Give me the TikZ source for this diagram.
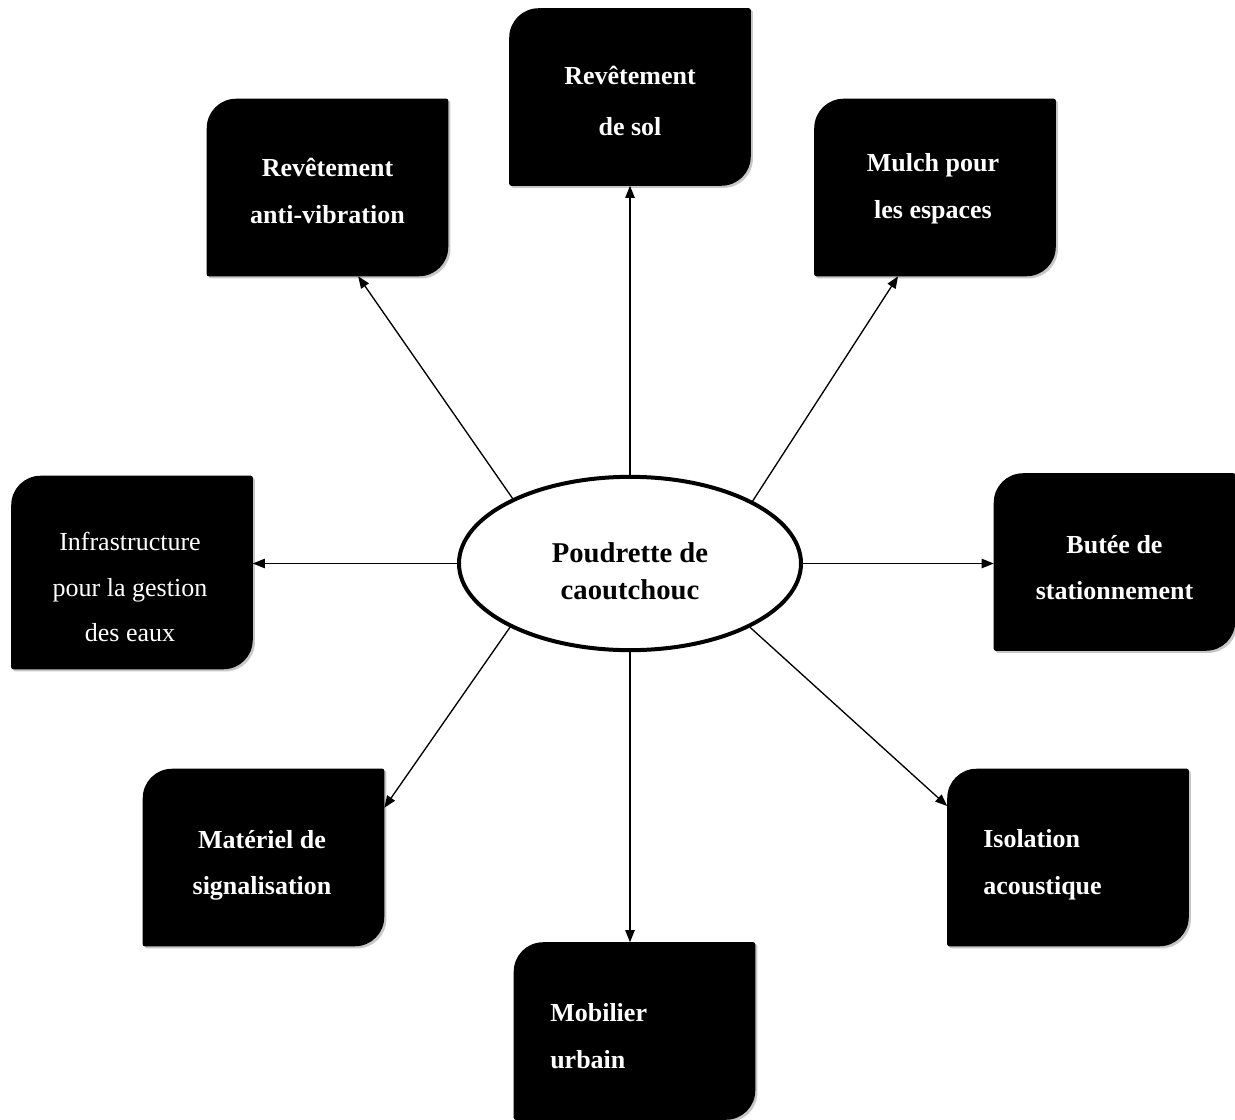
\documentclass[tikz,border=0pt]{standalone}
\usepackage{fontspec}
\setmainfont{Liberation Serif}
\usetikzlibrary{shapes.geometric,arrows.meta,calc}
\tikzset{
  tile/.style={minimum width=180.75pt,minimum height=132.75pt,inner sep=0pt},
  tall/.style={minimum height=144.75pt},
  hub/.style={ellipse,draw,line width=3pt,fill=white,minimum width=256.5pt,minimum height=130pt,inner sep=0pt},
  lbl/.style={text=white,inner sep=0pt,align=center,font=\fontsize{19.5}{35}\selectfont\bfseries},
  lblleft/.style={lbl,align=left,anchor=west},
  hubtxt/.style={inner sep=0pt,align=center,font=\fontsize{21.5}{27.75}\selectfont\bfseries},
  conn/.style={line width=1pt,-{Triangle[length=9pt,width=7pt]}},
  tileshadow/.style={fill=black!22,transform canvas={shift={(1.6pt,-1.6pt)}}},
}
\newcommand\tilefill[1]{%
  \path[tileshadow] (#1.south west) [rounded corners=22pt] -- (#1.north west) [rounded corners=1.5pt] -- (#1.north east) [rounded corners=22pt] -- (#1.south east) [rounded corners=1.5pt] -- cycle;
  \fill[black] (#1.south west) [rounded corners=22pt] -- (#1.north west) [rounded corners=1.5pt] -- (#1.north east) [rounded corners=22pt] -- (#1.south east) [rounded corners=1.5pt] -- cycle;
}
\begin{document}
\begin{tikzpicture}[x=0.75pt,y=-0.75pt]
\useasboundingbox (0,0) rectangle (1235,1120);
% tiles
\node[tile] (b1) at (327.5,187.5) {};
\node[tile] (b2) at (630,97) {};
\node[tile] (b3) at (935,187.5) {};
\node[tile,tall] (b4) at (132,572.5) {};
\node[tile] (b5) at (1114.5,562) {};
\node[tile] (b6) at (263.5,857.5) {};
\node[tile] (b7) at (1068,857.5) {};
\node[tile] (b8) at (634.5,1031) {};
\tilefill{b1}\tilefill{b2}\tilefill{b3}\tilefill{b4}
\tilefill{b5}\tilefill{b6}\tilefill{b7}\tilefill{b8}
% hub
\node[hub] (c) at (630,563.5) {};
\node[hubtxt] (ct) at (630,573.5) {\strut Poudrette de\\\strut caoutchouc};
% connectors
\draw[conn] (c.151) -- ($(b1.south west)!0.627!(b1.south east)$);
\draw[conn] (c.north) -- (b2.south);
\draw[conn] (c.27.7) -- ($(b3.south west)!0.347!(b3.south east)$);
\draw[conn] (c.west) -- (c.west -| b4.east);
\draw[conn] (c.east) -- (c.east -| b5.west);
\draw[conn] (c.208) -- ($(b6.north east)!0.22!(b6.south east)$);
\draw[conn] (c.332) -- ($(b7.north west)!0.21!(b7.south west)$);
\draw[conn] (c.south) -- (c.south |- b8.north);
% labels
\node[lbl] (l1) at (327.5,191) {\strut Revêtement\\\strut anti-vibration};
\node[lbl,font=\fontsize{19.5}{38}\selectfont\bfseries] (l2) at (630,100) {\strut Revêtement\\\strut de sol};
\node[lbl] (l3) at (933,185.5) {\strut Mulch pour\\\strut les espaces};
\node[lbl,font=\fontsize{19.5}{34}\selectfont] (l4) at (130,587) {\strut Infrastructure\\\strut pour la gestion\\\strut des eaux};
\node[lbl] (l5) at (1114.5,567) {\strut Butée de\\\strut stationnement};
\node[lbl] (l6) at (262,862) {\strut Matériel de\\\strut signalisation};
\node[lblleft] (l7) at (983,861.5) {\strut Isolation\\\strut acoustique};
\node[lblleft] (l8) at (550,1035.5) {\strut Mobilier\\\strut urbain};
\end{tikzpicture}
\end{document}
